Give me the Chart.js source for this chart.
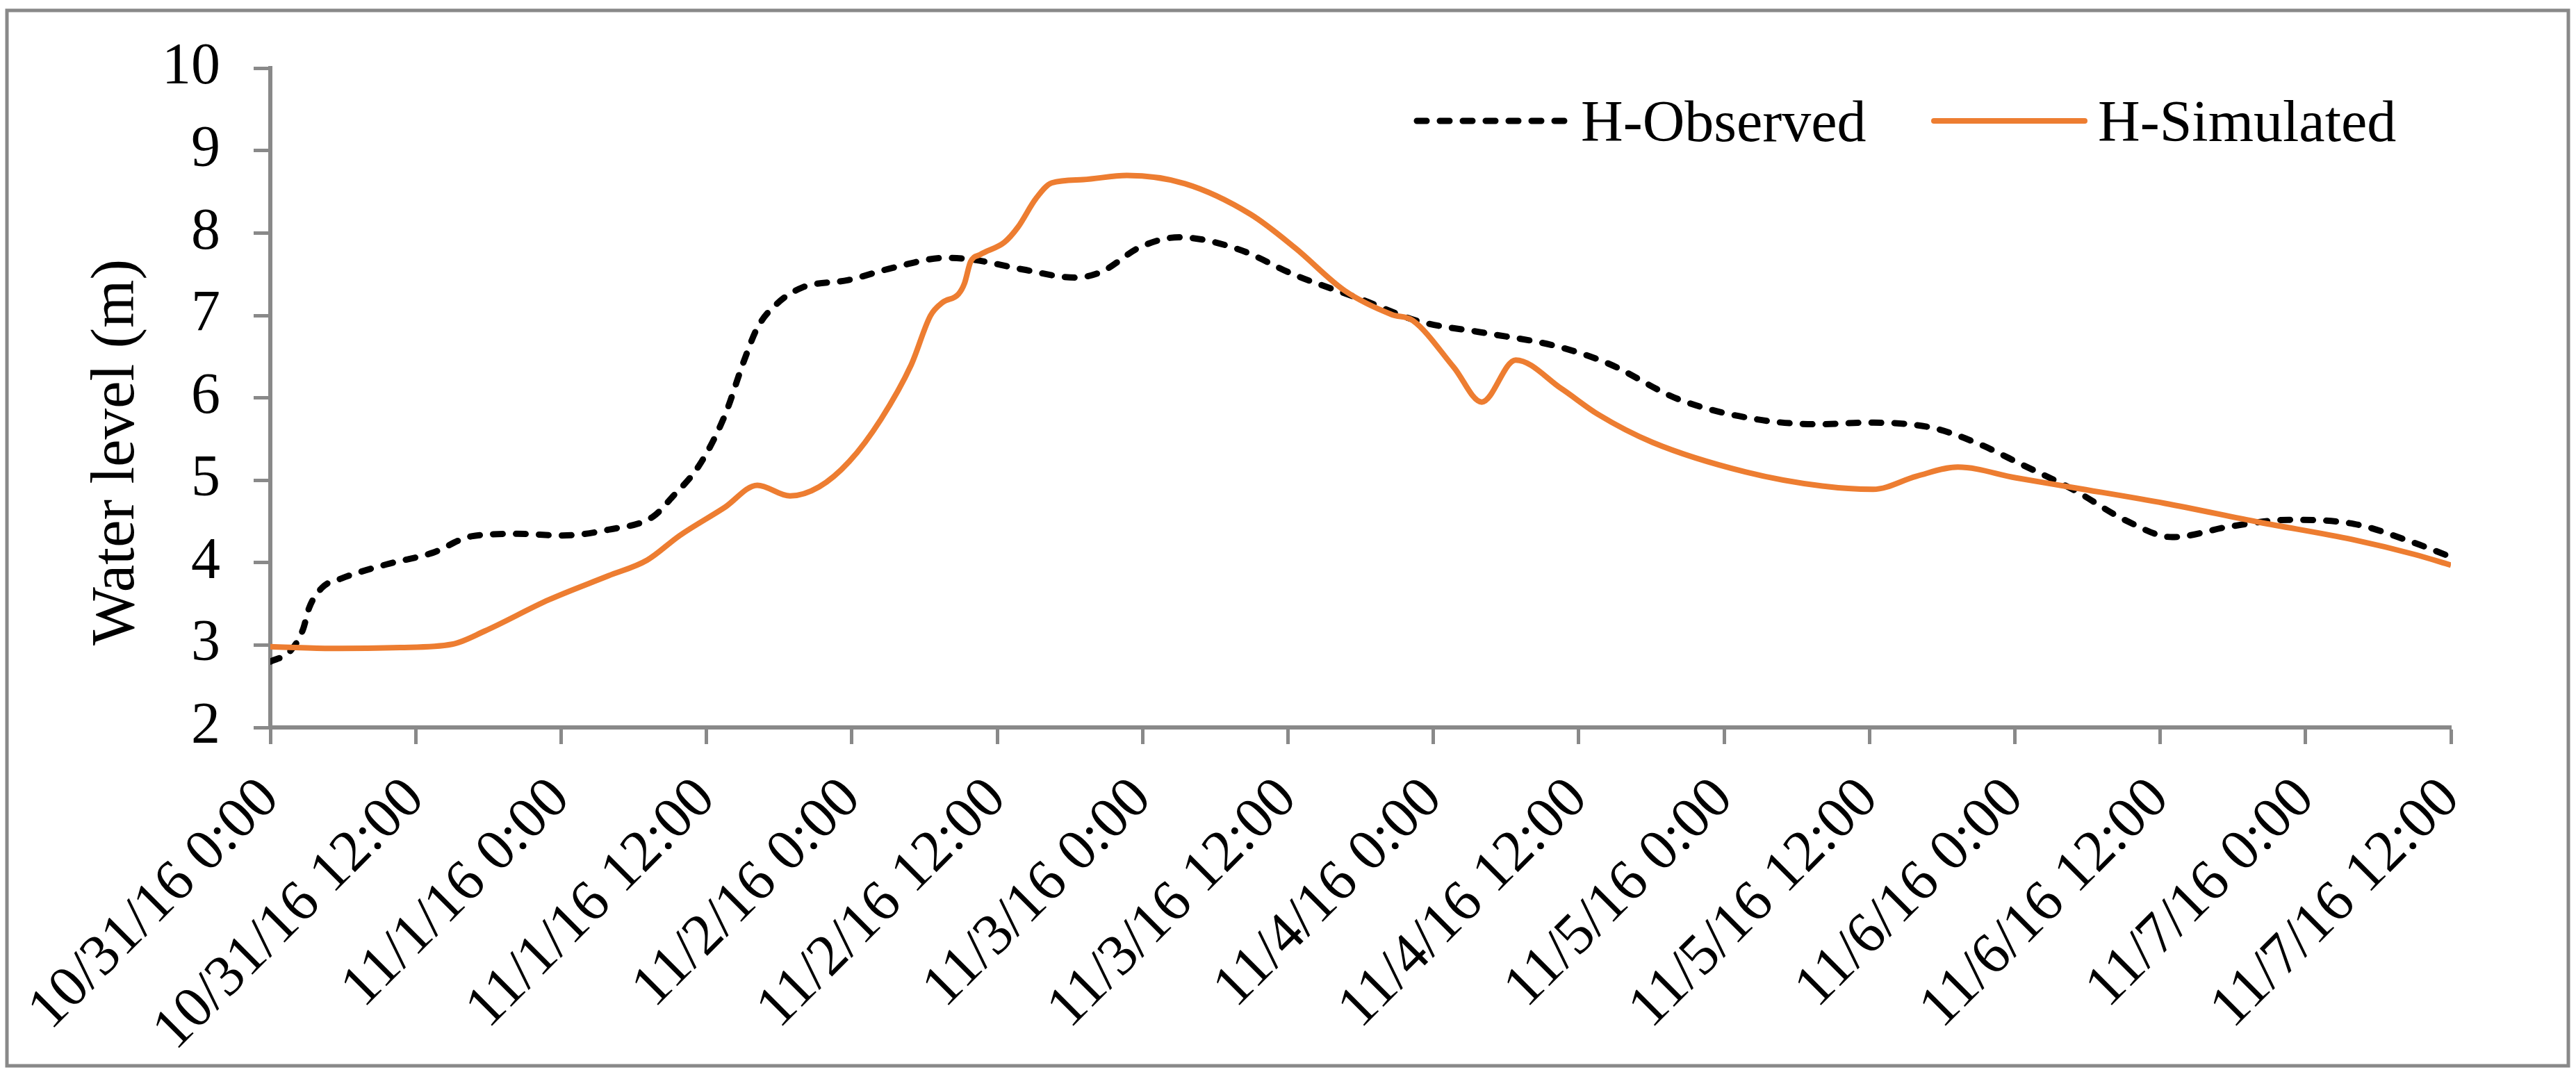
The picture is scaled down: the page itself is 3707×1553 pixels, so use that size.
<!DOCTYPE html>
<html>
<head>
<meta charset="utf-8">
<title>Water level</title>
<script src="https://cdn.jsdelivr.net/npm/chart.js@4.4.1/dist/chart.umd.min.js"></script>
<style>
  html, body { margin: 0; padding: 0; background: #fff; }
  canvas { display: block; }
</style>
</head>
<body>
<canvas id="myChart" width="3707" height="1553"></canvas>
<script>
const tickLabels = [
  "10/31/16 0:00", "10/31/16 12:00", "11/1/16 0:00", "11/1/16 12:00",
  "11/2/16 0:00", "11/2/16 12:00", "11/3/16 0:00", "11/3/16 12:00",
  "11/4/16 0:00", "11/4/16 12:00", "11/5/16 0:00", "11/5/16 12:00",
  "11/6/16 0:00", "11/6/16 12:00", "11/7/16 0:00", "11/7/16 12:00",
];
const yTicks = [2, 3, 4, 5, 6, 7, 8, 9, 10];
const yTitle = "Water level (m)";
const seriesNames = ["H-Observed", "H-Simulated"];

// hours after 10/31/16 0:00
const obsHours = [
  0, 1.6, 2.7, 3.2, 4.3, 5.9, 9.6, 13.4, 16.6, 20.4, 24.1, 27.9, 31.6, 33.2,
  35.4, 37.5, 39.1, 40.2, 41.8, 43.9, 47.7, 51.4, 55.7, 57.9, 62.1, 66.4, 68.6,
  71.8, 75.0, 79.8, 84.6, 90.0, 94.8, 100.2, 106.1, 110.4, 116.3, 122.7, 128.0,
  131.8, 137.1, 140.9, 144.6, 148.9, 153.2, 157.0, 161.8, 166.6, 172.0, 176.8, 180,
];
const obsLevels = [
  2.8, 2.92, 3.19, 3.45, 3.7, 3.81, 3.98, 4.12, 4.32, 4.35, 4.33, 4.4, 4.56, 4.8,
  5.18, 5.78, 6.45, 6.85, 7.14, 7.34, 7.43, 7.58, 7.7, 7.68, 7.56, 7.46, 7.53,
  7.83, 7.95, 7.81, 7.49, 7.2, 6.93, 6.79, 6.63, 6.42, 5.98, 5.74, 5.68,
  5.7, 5.64, 5.45, 5.19, 4.88, 4.51, 4.31, 4.44, 4.52, 4.47, 4.25, 4.07,
];

const simHours = [
  0, 4.8, 10.7, 15.0, 17.7, 23.0, 27.9, 31.1, 33.8, 37.5, 40.2, 42.9, 45.3,
  47.8, 50.4, 52.9, 54.5, 55.5, 56.8, 57.3, 57.8, 58.6, 60.6, 61.7, 63.2, 64.5,
  67.1, 70.7, 75.5, 80.9, 84.6, 88.7, 92.6, 94.3, 97.7, 100.0, 102.8, 106.6,
  109.6, 114.1, 121.8, 128.1, 132.3, 135.9, 139.3, 144.1, 148.9, 156.4, 164.2,
  171.9, 177.0, 180,
];
const simLevels = [
  2.98, 2.96, 2.97, 3.01, 3.17, 3.55, 3.84, 4.03, 4.33, 4.67, 4.94, 4.81, 4.92,
  5.23, 5.74, 6.4, 7.0, 7.16, 7.26, 7.39, 7.65, 7.74, 7.89, 8.07, 8.42, 8.61,
  8.65, 8.7, 8.6, 8.23, 7.82, 7.3, 7.01, 6.94, 6.37, 5.95, 6.46, 6.11,
  5.8, 5.46, 5.1, 4.93, 4.89, 5.05, 5.16, 5.03, 4.91, 4.72, 4.49,
  4.28, 4.1, 3.97,
];

const FONT = "'Liberation Serif', 'Times New Roman', serif";
const AXIS_GREY = "#898989";

Chart.defaults.font.family = FONT;
Chart.defaults.color = "#000";

function toPoints(hours, levels) {
  return hours.map((h, i) => ({ x: h, y: levels[i] }));
}

// frame, rotated y title and the in-plot legend
const decorPlugin = {
  id: "decor",
  beforeDraw(chart) {
    const ctx = chart.ctx;
    ctx.save();
    ctx.fillStyle = "#fff";
    ctx.fillRect(0, 0, chart.width, chart.height);
    ctx.strokeStyle = AXIS_GREY;
    ctx.lineWidth = 5;
    ctx.strokeRect(10, 15, 3686, 1519);
    ctx.restore();
  },
  afterDraw(chart) {
    const ctx = chart.ctx;

    ctx.save();
    ctx.fillStyle = "#000";
    ctx.font = `89px ${FONT}`;
    ctx.translate(192, 651);
    ctx.rotate(-Math.PI / 2);
    ctx.textAlign = "center";
    ctx.textBaseline = "alphabetic";
    ctx.fillText(yTitle, 0, 0);
    ctx.restore();

    const starts = [2039, 2783];
    chart.data.datasets.forEach((ds, i) => {
      const x0 = starts[i];
      ctx.save();
      ctx.strokeStyle = ds.borderColor;
      ctx.lineWidth = ds.borderWidth;
      ctx.lineCap = "round";
      ctx.setLineDash(ds.borderDash || []);
      ctx.beginPath();
      ctx.moveTo(x0, 174);
      ctx.lineTo(x0 + 217, 174);
      ctx.stroke();
      ctx.setLineDash([]);
      ctx.fillStyle = "#000";
      ctx.font = `84px ${FONT}`;
      ctx.textAlign = "left";
      ctx.textBaseline = "alphabetic";
      ctx.fillText(ds.label, x0 + 236, 203);
      ctx.restore();
    });
  },
};

new Chart(document.getElementById("myChart"), {
  type: "line",
  data: {
    datasets: [
      {
        label: seriesNames[0],
        data: toPoints(obsHours, obsLevels),
        borderColor: "#000000",
        borderWidth: 9,
        borderDash: [14, 19],
        borderCapStyle: "round",
        pointRadius: 0,
        cubicInterpolationMode: "monotone",
        order: 1,
      },
      {
        label: seriesNames[1],
        data: toPoints(simHours, simLevels),
        borderColor: "#ED7D31",
        borderWidth: 8,
        pointRadius: 0,
        cubicInterpolationMode: "monotone",
        order: 0,
      },
    ],
  },
  options: {
    responsive: false,
    animation: false,
    devicePixelRatio: 1,
    layout: { padding: { left: 0, right: 180, top: 91, bottom: 0 } },
    plugins: {
      legend: { display: false },
      tooltip: { enabled: false },
    },
    scales: {
      x: {
        type: "linear",
        min: 0,
        max: 180,
        afterFit: (scale) => { scale.height = 506; },
        afterBuildTicks: (scale) => {
          scale.ticks = tickLabels.map((_, i) => ({ value: i * 12 }));
        },
        ticks: {
          autoSkip: false,
          minRotation: 45,
          maxRotation: 45,
          padding: 30,
          font: { size: 84 },
          color: "#000",
          callback: (value) => tickLabels[Math.round(value / 12)],
        },
        grid: {
          drawOnChartArea: false,
          drawTicks: true,
          tickLength: 24,
          tickWidth: 5,
          tickColor: AXIS_GREY,
        },
        border: { display: true, color: AXIS_GREY, width: 6 },
      },
      y: {
        min: 2,
        max: 10,
        afterFit: (scale) => { scale.width = 389; },
        afterBuildTicks: (scale) => {
          scale.ticks = yTicks.map((v) => ({ value: v }));
        },
        ticks: {
          padding: 48,
          font: { size: 84 },
          color: "#000",
        },
        grid: {
          drawOnChartArea: false,
          drawTicks: true,
          tickLength: 24,
          tickWidth: 5,
          tickColor: AXIS_GREY,
        },
        border: { display: true, color: AXIS_GREY, width: 6 },
      },
    },
  },
  plugins: [decorPlugin],
});
</script>
</body>
</html>
